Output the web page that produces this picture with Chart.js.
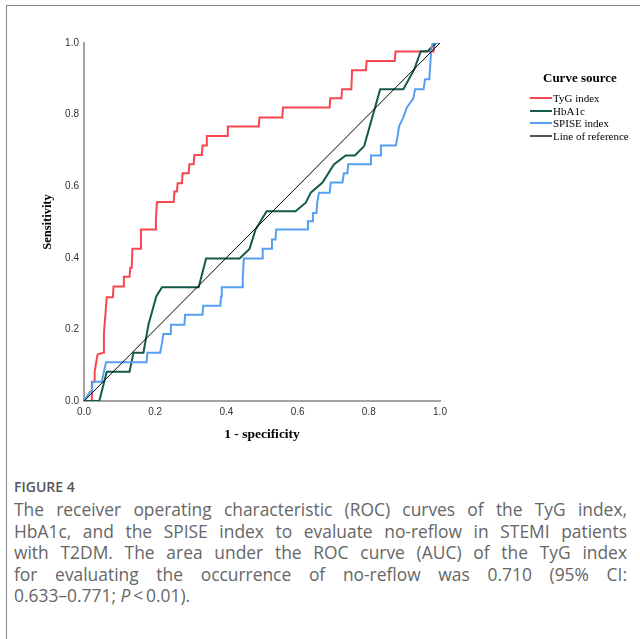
<!DOCTYPE html>
<html>
<head>
<meta charset="utf-8">
<title>ROC curves</title>
<script src="https://cdn.jsdelivr.net/npm/chart.js"></script>
<style>
  body { margin: 0; width: 640px; height: 639px; background: #fff; position: relative; overflow: hidden; }
  #frame { position: absolute; left: 6px; top: 5px; right: -2px; bottom: -2px; border-top: 1px solid #8a8a8a; border-left: 1px solid #8a8a8a; }
  #wrap { position: absolute; left: 0; top: 0; width: 640px; height: 460px; }
  #legend { position: absolute; left: 530px; top: 70px; font-family: "Liberation Serif", serif; color: #000; }
  #legend .title { font-weight: bold; font-size: 13px; margin-left: 13px; margin-bottom: 6px; }
  #legend .item { font-size: 11px; height: 12.5px; line-height: 12px; display: flex; align-items: center; }
  #legend .swatch { width: 22px; height: 2px; margin-right: 1px; }
  #caption { position: absolute; left: 14px; top: 477px; width: 613px; font-family: "Open Sans", sans-serif; color: #666; }
  #caption .fig { font-size: 14px; font-weight: 600; color: #555; margin-bottom: 3px; }
  #caption .line { font-size: 17.4px; line-height: 21.6px; text-align: justify; text-align-last: justify; white-space: nowrap; }
  #caption .line.last { text-align-last: left; }
</style>
</head>
<body>
<div id="frame"></div>
<div id="wrap"><canvas id="roc" width="640" height="460"></canvas></div>
<div id="legend"></div>
<div id="caption">
  <div class="fig">FIGURE 4</div>
  <div class="line">The receiver operating characteristic (ROC) curves of the TyG index,</div>
  <div class="line">HbA1c, and the SPISE index to evaluate no-reflow in STEMI patients</div>
  <div class="line">with T2DM. The area under the ROC curve (AUC) of the TyG index</div>
  <div class="line">for evaluating the occurrence of no-reflow was 0.710 (95% CI:</div>
  <div class="line last">0.633–0.771; <i>P</i>&thinsp;&lt;&thinsp;0.01).</div>
</div>
<script>
// curve points (1 - specificity, sensitivity)
const tygX = [0, 0.02, 0.022, 0.03, 0.03, 0.038, 0.054, 0.056, 0.064, 0.081, 0.083, 0.11, 0.112, 0.128, 0.13, 0.134, 0.136, 0.158, 0.16, 0.2, 0.202, 0.205, 0.252, 0.254, 0.261, 0.263, 0.275, 0.277, 0.294, 0.296, 0.308, 0.31, 0.331, 0.333, 0.343, 0.345, 0.402, 0.404, 0.491, 0.493, 0.557, 0.559, 0.69, 0.692, 0.723, 0.725, 0.751, 0.753, 0.792, 0.794, 0.873, 0.875, 0.982, 0.985, 1];
const tygY = [0, 0, 0.054, 0.054, 0.082, 0.13, 0.135, 0.19, 0.29, 0.29, 0.32, 0.32, 0.347, 0.347, 0.372, 0.372, 0.425, 0.425, 0.479, 0.479, 0.507, 0.556, 0.556, 0.585, 0.585, 0.608, 0.608, 0.636, 0.636, 0.661, 0.661, 0.687, 0.687, 0.714, 0.714, 0.74, 0.74, 0.767, 0.767, 0.792, 0.792, 0.82, 0.82, 0.846, 0.846, 0.871, 0.871, 0.924, 0.924, 0.95, 0.95, 0.976, 0.976, 1, 1];

const hbX = [0, 0.043, 0.064, 0.128, 0.139, 0.167, 0.181, 0.203, 0.219, 0.322, 0.343, 0.437, 0.465, 0.482, 0.513, 0.594, 0.623, 0.637, 0.67, 0.702, 0.735, 0.761, 0.787, 0.832, 0.897, 0.928, 0.946, 0.965, 0.989, 1];
const hbY = [0, 0, 0.082, 0.082, 0.135, 0.135, 0.213, 0.292, 0.318, 0.318, 0.398, 0.398, 0.425, 0.479, 0.53, 0.53, 0.554, 0.582, 0.61, 0.661, 0.686, 0.686, 0.712, 0.871, 0.871, 0.927, 0.977, 0.977, 1, 1];

const spiseX = [0, 0.017, 0.022, 0.024, 0.05, 0.056, 0.062, 0.176, 0.178, 0.214, 0.219, 0.223, 0.242, 0.244, 0.282, 0.284, 0.333, 0.335, 0.383, 0.385, 0.387, 0.444, 0.446, 0.449, 0.5, 0.502, 0.526, 0.528, 0.538, 0.54, 0.627, 0.629, 0.641, 0.643, 0.653, 0.655, 0.66, 0.69, 0.693, 0.726, 0.73, 0.74, 0.742, 0.804, 0.806, 0.832, 0.834, 0.876, 0.881, 0.885, 0.897, 0.907, 0.925, 0.93, 0.954, 0.958, 0.97, 0.975, 0.979, 1];
const spiseY = [0, 0.026, 0.026, 0.054, 0.054, 0.082, 0.108, 0.108, 0.135, 0.135, 0.161, 0.187, 0.187, 0.213, 0.213, 0.241, 0.241, 0.266, 0.266, 0.292, 0.318, 0.318, 0.346, 0.398, 0.398, 0.425, 0.425, 0.451, 0.451, 0.479, 0.479, 0.502, 0.502, 0.525, 0.525, 0.554, 0.582, 0.582, 0.61, 0.61, 0.636, 0.636, 0.661, 0.661, 0.686, 0.686, 0.714, 0.714, 0.74, 0.767, 0.792, 0.82, 0.845, 0.871, 0.871, 0.899, 0.899, 0.974, 1, 1];

const refX = [0, 1];
const refY = [0, 1];

const seriesNames = ['TyG index', 'HbA1c', 'SPISE index', 'Line of reference'];
const seriesColors = ['#f7464e', '#145a4c', '#559ff0', '#000000'];
const yTicks = [0, 0.2, 0.4, 0.6, 0.8, 1.0];

const toPoints = (xs, ys) => xs.map((x, i) => ({ x: x, y: ys[i] }));
const allSeries = [[tygX, tygY], [hbX, hbY], [spiseX, spiseY], [refX, refY]];

const datasets = allSeries.map((s, i) => ({
    label: seriesNames[i],
    data: toPoints(s[0], s[1]),
    borderColor: seriesColors[i],
    borderWidth: i === 3 ? 1 : 2,
    pointRadius: 0,
    tension: 0,
    fill: false
}));
// draw reference first so coloured curves sit on top of it
datasets.reverse();

new Chart(document.getElementById('roc'), {
    type: 'line',
    data: { datasets: datasets },
    options: {
        responsive: false,
        animation: false,
        layout: { padding: { left: 0, top: 43, right: 200, bottom: 0 } },
        plugins: { legend: { display: false }, tooltip: { enabled: false } },
        scales: {
            x: {
                type: 'linear', min: 0, max: 1,
                afterFit: s => { s.height = 59; },
                grid: { display: false, drawTicks: false },
                border: { color: '#a3a3a3', width: 2 },
                ticks: { stepSize: 0.2, padding: 5, color: '#333', font: { family: 'Liberation Sans', size: 10 },
                         callback: v => v.toFixed(1), maxRotation: 0 },
                title: { display: true, text: '1 - specificity', color: '#000', padding: { bottom: 17 },
                         font: { family: 'Liberation Serif', size: 13.5, weight: 'bold' } }
            },
            y: {
                type: 'linear', min: 0, max: 1,
                afterFit: s => { s.width = 84; },
                afterBuildTicks: s => { s.ticks = yTicks.map(v => ({ value: v })); },
                grid: { display: false, drawTicks: false },
                border: { color: '#a3a3a3', width: 2 },
                ticks: { padding: 5, color: '#333', font: { family: 'Liberation Sans', size: 10 },
                         callback: v => v.toFixed(1) },
                title: { display: true, text: 'Sensitivity', color: '#000', padding: { top: 40 },
                         font: { family: 'Liberation Serif', size: 12.5, weight: 'bold' } }
            }
        }
    }
});

// legend as html text
const legend = document.getElementById('legend');
legend.innerHTML = '<div class="title">Curve source</div>' + seriesNames.map((n, i) =>
    '<div class="item"><span class="swatch" style="background:' + (i === 3 ? '#555' : seriesColors[i]) +
    ';height:' + (i === 3 ? 1.5 : 2) + 'px"></span>' + n + '</div>').join('');
</script>
</body>
</html>
